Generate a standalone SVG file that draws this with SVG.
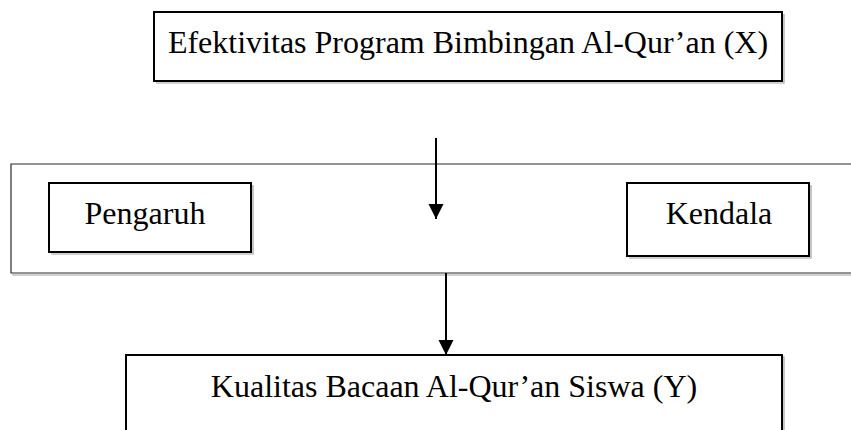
<svg xmlns="http://www.w3.org/2000/svg" width="851" height="430" viewBox="0 0 851 430">
<style>
.box{fill:#fff;stroke:#000;stroke-width:2}
.shadow{fill:none;stroke:#a0a0a0;stroke-width:1.2}
.band{fill:none;stroke:#2a2a2a;stroke-width:1.2}
.lbl{font-family:"Liberation Serif","Times New Roman",serif;font-size:32px;fill:#000;text-anchor:middle}
.conn{stroke:#000;stroke-width:2;fill:none;marker-end:url(#ah)}
</style>
<defs>
<marker id="ah" markerUnits="userSpaceOnUse" markerWidth="16" markerHeight="16" refX="15" refY="7.5" orient="auto">
<path d="M0,0 L15,7.5 L0,15 z" fill="#000"/>
</marker>
</defs>
<rect width="851" height="430" fill="#fff"/>
<g id="band">
<path class="shadow" d="M12,275 H851"/>
<path class="band" d="M851,164 H11 V273 H851"/>
</g>
<g id="nodeX">
<path class="shadow" d="M156,83 H784 V14"/>
<rect class="box" x="154" y="12" width="628" height="69"/>
<text class="lbl" x="468" y="53">Efektivitas Program Bimbingan Al-Qur’an (X)</text>
</g>
<g id="nodePengaruh">
<path class="shadow" d="M51,254 H253 V185"/>
<rect class="box" x="49" y="183" width="202" height="69"/>
<text class="lbl" x="145" y="224">Pengaruh</text>
</g>
<g id="nodeKendala">
<path class="shadow" d="M629,258 H811 V185"/>
<rect class="box" x="627" y="183" width="182" height="73"/>
<text class="lbl" x="719" y="224">Kendala</text>
</g>
<g id="nodeY">
<path class="shadow" d="M126,357 H784 V440"/>
<path class="box" d="M126,440 V355 H782 V440"/>
<text class="lbl" x="454" y="397">Kualitas Bacaan Al-Qur’an Siswa (Y)</text>
</g>
<g id="connectors">
<line class="conn" x1="436" y1="138" x2="436" y2="219"/>
<line class="conn" x1="446" y1="273" x2="446" y2="355"/>
</g>
</svg>
